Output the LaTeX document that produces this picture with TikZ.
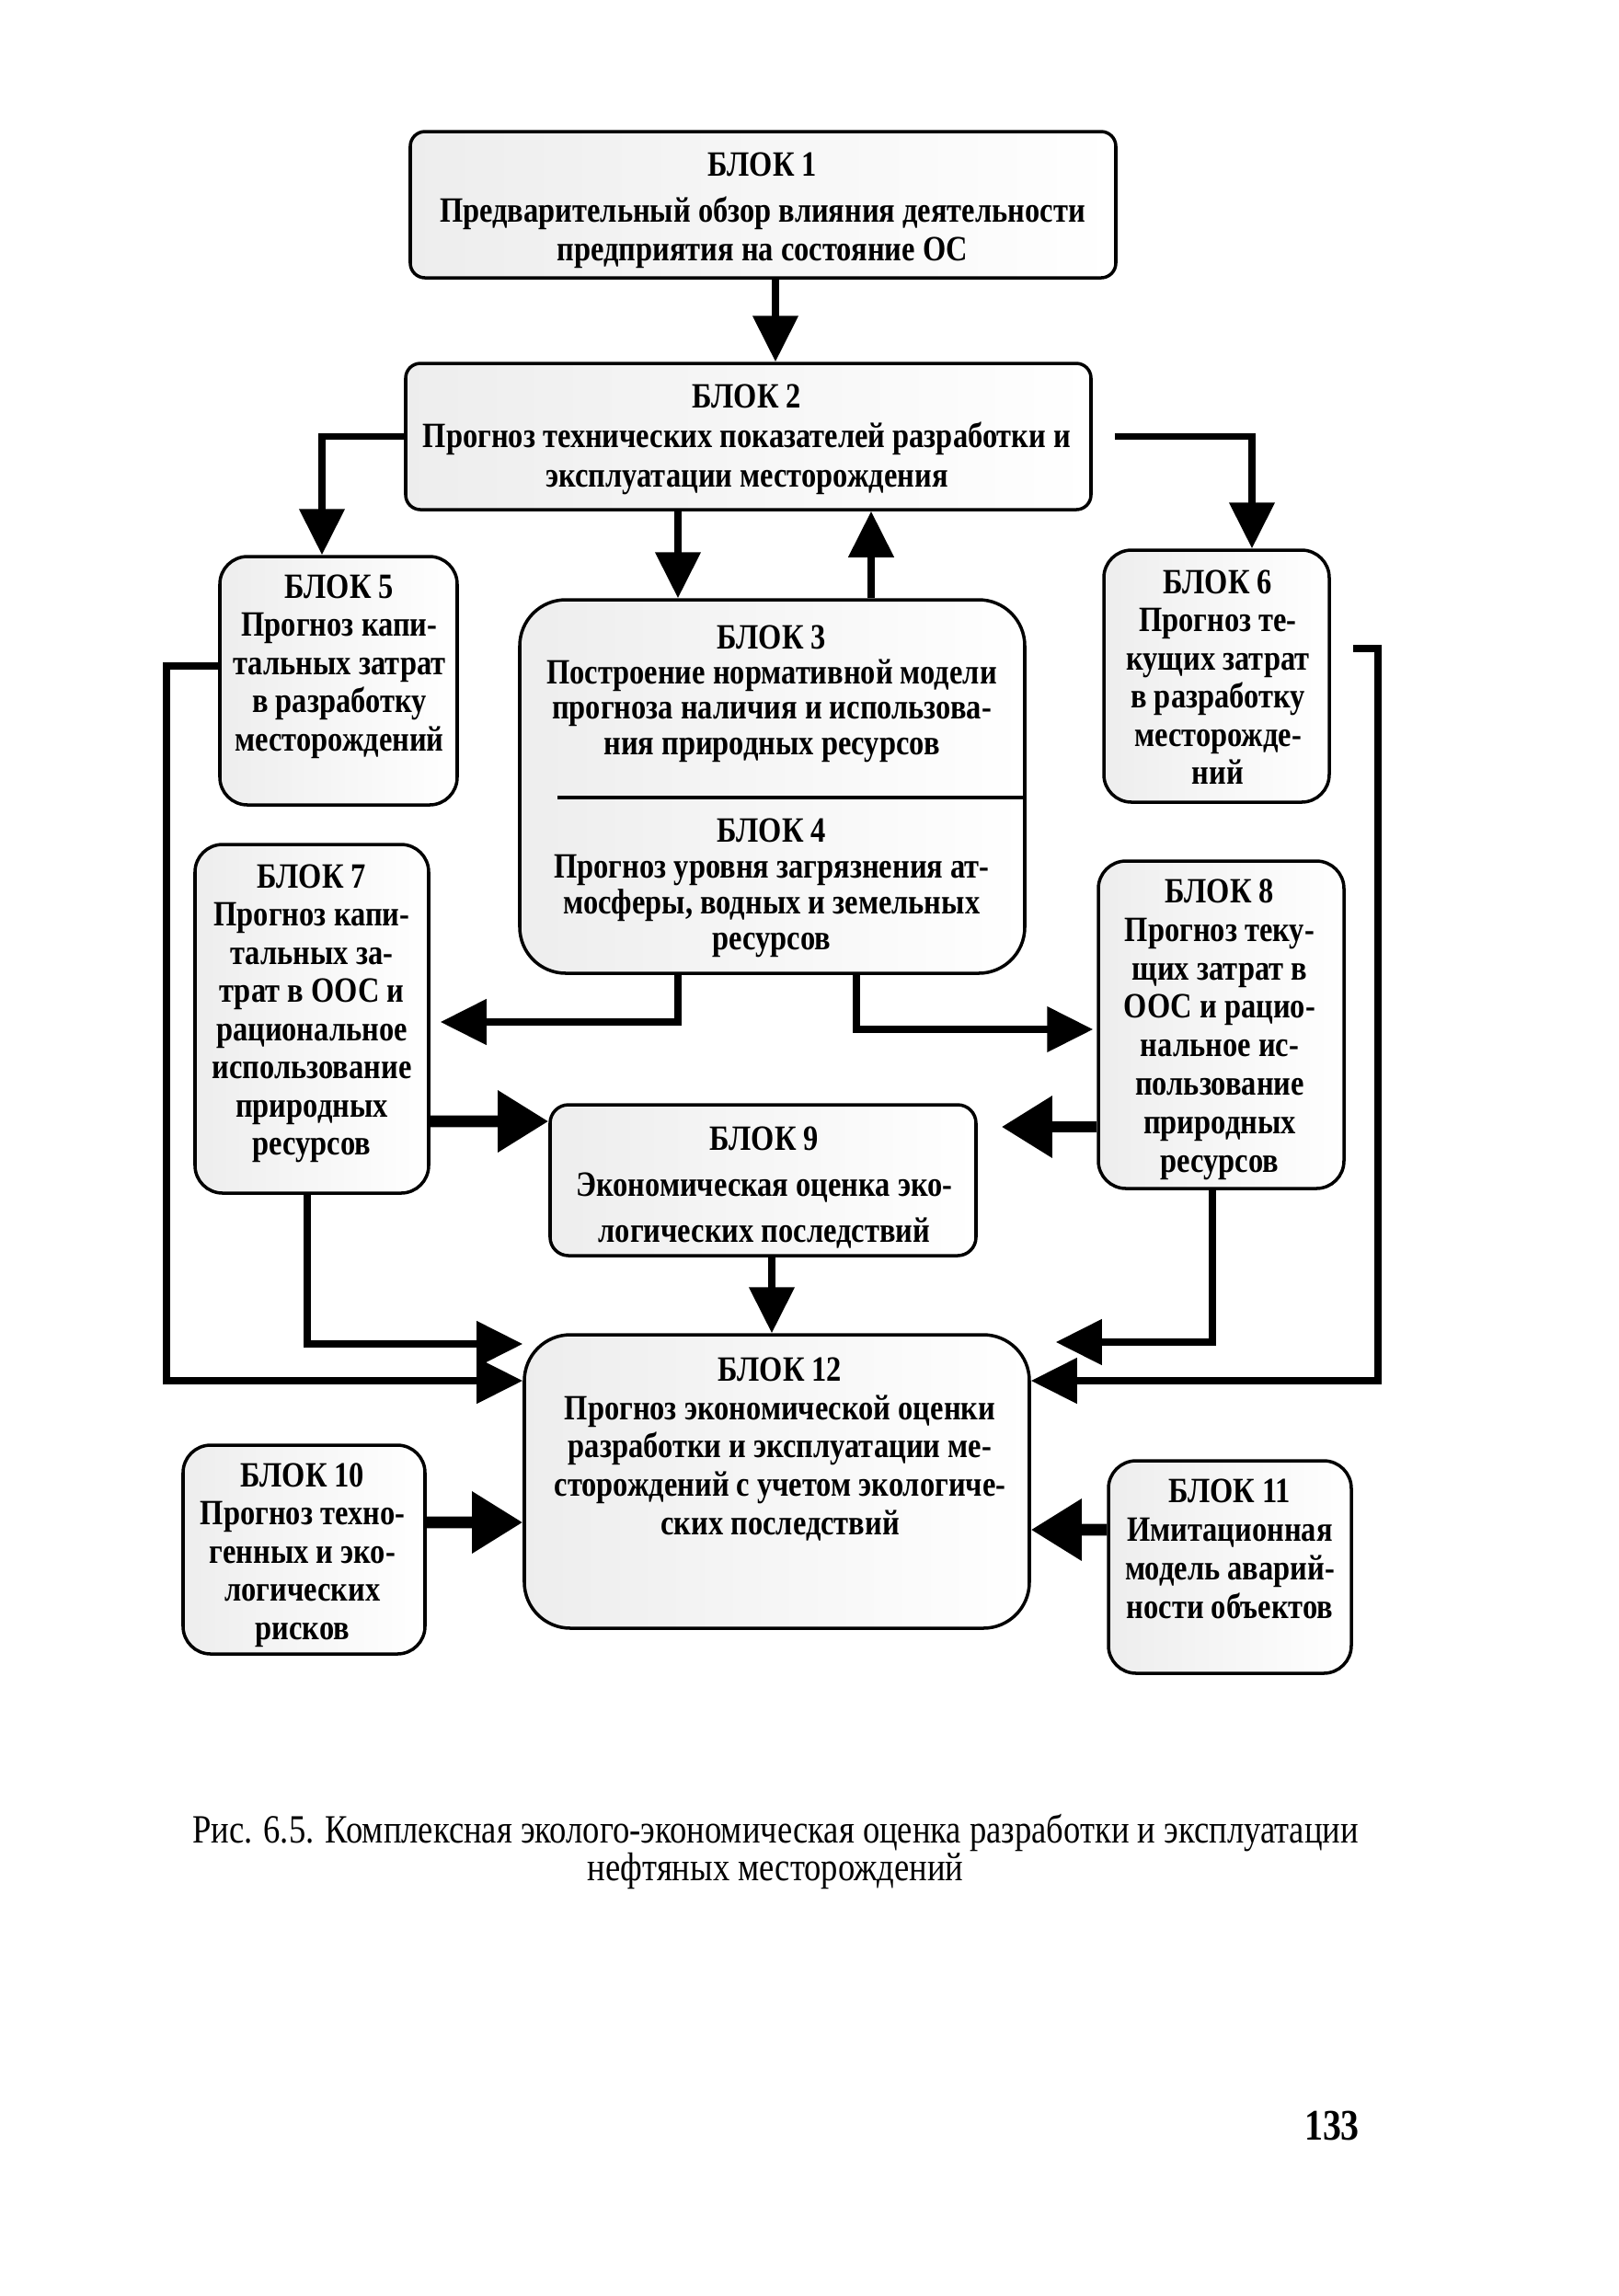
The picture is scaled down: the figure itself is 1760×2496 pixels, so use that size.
\documentclass[tikz,border=0pt]{standalone}
\usepackage{fontspec}
\setmainfont{Liberation Serif}[FakeStretch=0.84]
\usetikzlibrary{arrows.meta,calc}
\tikzset{
 box/.style={draw=black, line width=1pt, rounded corners=3mm, left color=black!7, right color=white, inner sep=0pt},
 txt/.style={align=center, inner sep=0pt, anchor=north, font=\fontsize{11}{11.8}\selectfont\bfseries},
 conn/.style={line width=2.2pt, -{Triangle[length=5mm,width=4.8mm]}},
 thickconn/.style={line width=3.6pt, -{Triangle[length=5.5mm,width=6.4mm]}},
}
\begin{document}
\begin{tikzpicture}[x=0.1mm, y=-0.1mm]
\useasboundingbox (0,0) rectangle (1760,2496);
\fill[white] (0,0) rectangle (1760,2496);

% boxes
\node[box, rounded corners=1.6mm, minimum width=76.7mm, minimum height=15.9mm] (b1) at (829.5,222.5) {};
\node[box, rounded corners=1.6mm, minimum width=74.5mm, minimum height=15.9mm] (b2) at (813.5,474.5) {};
\node[box, minimum width=25.8mm, minimum height=27.0mm] (b5) at (368,740) {};
\node[box, minimum width=24.5mm, minimum height=27.4mm] (b6) at (1322.5,735) {};
\node[box, rounded corners=5mm, minimum width=54.9mm, minimum height=40.6mm] (b34) at (839.5,855) {};
\node[box, minimum width=25.4mm, minimum height=37.9mm] (b7) at (339,1107.5) {};
\node[box, minimum width=26.7mm, minimum height=35.6mm] (b8) at (1327.5,1114) {};
\node[box, rounded corners=2mm, minimum width=46.3mm, minimum height=16.4mm] (b9) at (829.5,1283) {};
\node[box, rounded corners=5mm, minimum width=54.9mm, minimum height=31.9mm] (b12) at (844.5,1610.5) {};
\node[box, minimum width=26.3mm, minimum height=22.7mm] (b10) at (330.5,1684.5) {};
\node[box, minimum width=26.4mm, minimum height=23.1mm] (b11) at (1337,1703.5) {};

\draw[line width=1pt] ($(b34.west)+(43,12)$) -- ($(b34.east)+(0,12)$);

% texts
\node[txt] (t1) at (829,165) {БЛОК 1\\[2.5pt] Предварительный обзор влияния деятельности\\ предприятия на состояние ОС};
\node[txt, font=\fontsize{11}{12.2}\selectfont\bfseries] (t2) at (812,417) {БЛОК 2\\ Прогноз технических показателей разработки и\\ эксплуатации месторождения};
\node[txt] (t5) at (369,624) {БЛОК 5\\ Прогноз капи-\\ тальных затрат\\ в разработку\\ месторождений};
\node[txt] (t6) at (1324,619) {БЛОК 6\\ Прогноз те-\\ кущих затрат\\ в разработку\\ месторожде-\\ ний};
\node[txt, font=\fontsize{11}{10.9}\selectfont\bfseries] (t3) at (839,679) {БЛОК 3\\ Построение нормативной модели\\ прогноза наличия и использова-\\ ния природных ресурсов};
\node[txt, font=\fontsize{11}{11.1}\selectfont\bfseries] (t4) at (839,889) {БЛОК 4\\ Прогноз уровня загрязнения ат-\\ мосферы, водных и земельных\\ ресурсов};
\node[txt] (t7) at (339,939) {БЛОК 7\\ Прогноз капи-\\ тальных за-\\ трат в ООС и\\ рациональное\\ использование\\ природных\\ ресурсов};
\node[txt, font=\fontsize{11}{11.9}\selectfont\bfseries] (t8) at (1326,955) {БЛОК 8\\ Прогноз теку-\\ щих затрат в\\ ООС и рацио-\\ нальное ис-\\ пользование\\ природных\\ ресурсов};
\node[txt, font=\fontsize{11}{14.2}\selectfont\bfseries] (t9) at (831,1224) {БЛОК 9\\ Экономическая оценка эко-\\ логических последствий};
\node[txt, font=\fontsize{11}{11.9}\selectfont\bfseries] (t12) at (848,1475) {БЛОК 12\\ Прогноз экономической оценки\\ разработки и эксплуатации ме-\\ сторождений с учетом экологиче-\\ ских последствий};
\node[txt] (t10) at (329,1590) {БЛОК 10\\ Прогноз техно-\\ генных и эко-\\ логических\\ рисков};
\node[txt, font=\fontsize{11}{11.95}\selectfont\bfseries] (t11) at (1337,1607) {БЛОК 11\\ Имитационная\\ модель аварий-\\ ности объектов};

% connectors
\draw[conn] ($(b1.south)+(13.5,0)$) -- ($(b2.north)+(29.5,0)$);
\draw[conn] (b2.west) -| ($(b5.north)+(-18,0)$);
\draw[conn] ($(b2.east)+(24,0)$) -| ($(b6.north)+(38.5,0)$);
\draw[conn] ($(b2.south)+(-76.5,0)$) -- ($(b34.north)+(-102.5,0)$);
\draw[conn] ($(b34.north)+(107.5,0)$) -- ($(b2.south)+(133.5,0)$);
\draw[conn] ($(b34.south)+(-102.5,0)$) |- ($(b7.east)+(11,3.5)$);
\draw[conn] ($(b34.south)+(91.5,0)$) |- ($(b8.west)+(-4,5)$);
\draw[thickconn] ($(b7.east)+(0,111.5)$) -- ($(b9.west)+(0,-64)$);
\draw[thickconn] ($(b8.west)+(0,111)$) -- ($(b9.east)+(26,-58)$);
\draw[conn] ($(b9.south)+(9.5,0)$) -- ($(b12.north)+(-5.5,0)$);
\draw[conn] ($(b7.south)+(-5,0)$) |- ($(b12.west)+(0,-149.5)$);
\draw[conn] ($(b5.west)+(0,-16)$) -- ++(-56,0) |- ($(b12.west)+(0,-109.5)$);
\draw[conn] ($(b8.south)+(-9.5,0)$) |- ($(b12.east)+(27,-151.5)$);
\draw[conn] ($(b6.east)+(24,-30)$) -- ++(27,0) |- ($(b12.east)+(0,-109.5)$);
\draw[thickconn] ($(b10.east)+(0,-29.5)$) -- ($(b12.west)+(0,44.5)$);
\draw[thickconn] ($(b11.west)+(0,-40.5)$) -- ($(b12.east)+(0,52.5)$);

% caption and page number
\node[align=center, inner sep=0pt, anchor=north, font=\fontsize{12.4}{11.5}\selectfont] (cap) at (843,1972) {Рис. 6.5. Комплексная эколого-экономическая оценка разработки и эксплуатации\\ нефтяных месторождений};
\node[inner sep=0pt, font=\fontsize{13.5}{14}\selectfont\bfseries] (pg) at (1448,2311) {133};
\end{tikzpicture}
\end{document}
